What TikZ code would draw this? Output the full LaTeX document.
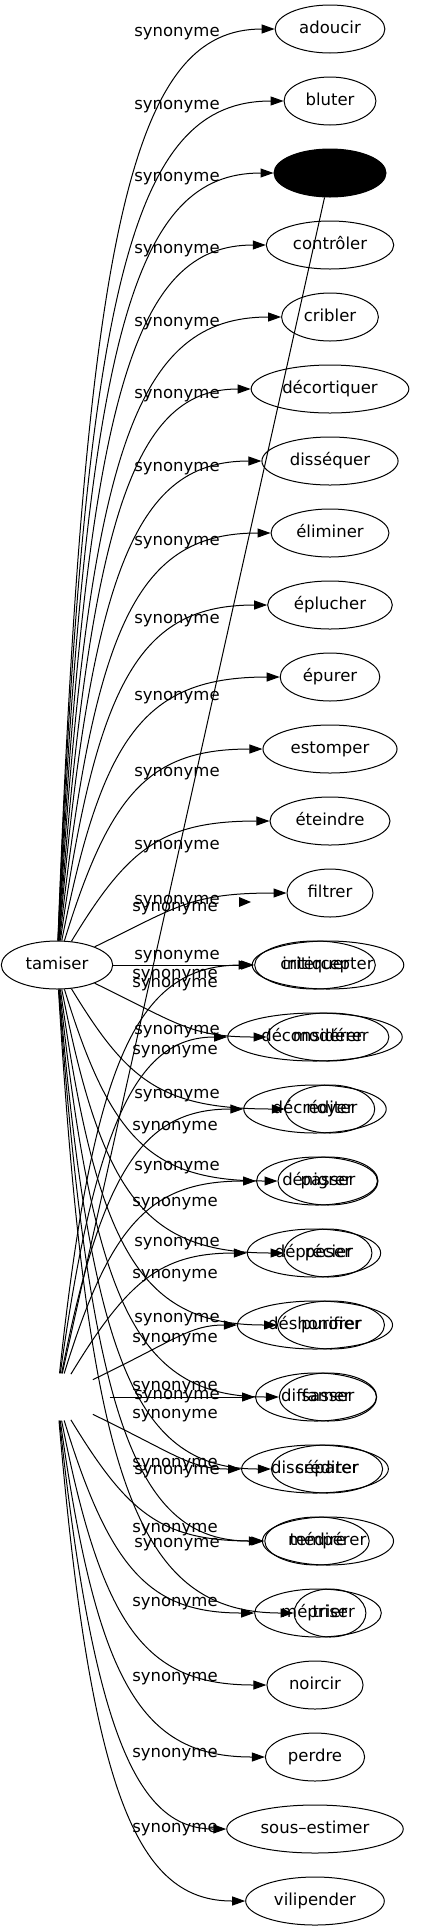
\documentclass[tikz,border=0pt]{standalone}
\usepackage{fontspec}
\setmainfont{DejaVu Sans}
\usepackage{tikz}
\usetikzlibrary{shapes.geometric, arrows.meta}

\begin{document}
\begin{tikzpicture}[x=1pt, y=-1pt,
        syn/.style={draw, ellipse, line width=1pt, inner xsep=8pt, inner ysep=0pt,
            text height=12pt, text depth=4pt,
            minimum height=48pt, font=\fontsize{16.5}{19}\selectfont},
        lbl/.style={inner sep=0pt, text height=12pt, text depth=4pt,
            font=\fontsize{16.5}{19}\selectfont},
        link/.style={line width=1pt, -{Triangle[length=13pt, width=9pt]}}]
        \useasboundingbox (0, 0) rectangle (430, 1931);

        % sources
        \node[syn] (tamiser) at (57, 965) {tamiser};
        \node[ellipse, minimum width=105pt, minimum height=47pt] (fantome) at (57, 1397) {};

        % first column
        \node[syn] (adoucir) at (330, 29) {adoucir};
        \node[syn] (bluter) at (330, 101) {bluter};
        \node[syn, fill=black, minimum width=112pt] (ombre) at (330, 173) {};
        \node[syn] (controler) at (330, 245) {contrôler};
        \node[syn] (cribler) at (330, 317) {cribler};
        \node[syn] (decortiquer) at (330, 389) {décortiquer};
        \node[syn] (dissequer) at (330, 461) {disséquer};
        \node[syn] (eliminer) at (330, 533) {éliminer};
        \node[syn] (eplucher) at (330, 605) {éplucher};
        \node[syn] (epurer) at (330, 677) {épurer};
        \node[syn] (estomper) at (330, 749) {estomper};
        \node[syn] (eteindre) at (330, 821) {éteindre};
        \node[syn] (filtrer) at (330, 893) {filtrer};
        \node[syn] (intercepter) at (328, 965) {intercepter};
        \node[syn] (moderer) at (328, 1037) {modérer};
        \node[syn] (noyer) at (330, 1109) {noyer};
        \node[syn] (passer) at (328, 1181) {passer};
        \node[syn] (peser) at (328, 1253) {peser};
        \node[syn] (purifier) at (331, 1325) {purifier};
        \node[syn] (sasser) at (328, 1397) {sasser};
        \node[syn] (separer) at (327, 1469) {séparer};
        \node[syn] (temperer) at (328, 1541) {tempérer};
        \node[syn] (trier) at (330, 1613) {trier};

        % second column, on top of the first
        \node[syn] (critiquer) at (315, 965) {critiquer};
        \node[syn] (deconsiderer) at (315, 1037) {déconsidérer};
        \node[syn] (decrediter) at (315, 1109) {décréditer};
        \node[syn] (denigrer) at (317, 1181) {dénigrer};
        \node[syn] (deprecier) at (314, 1253) {déprécier};
        \node[syn] (deshonorer) at (315, 1325) {déshonorer};
        \node[syn] (diffamer) at (316, 1397) {diffamer};
        \node[syn] (discrediter) at (315, 1469) {discréditer};
        \node[syn] (medire) at (317, 1541) {médire};
        \node[syn] (mepriser) at (318, 1613) {mépriser};
        \node[syn] (noircir) at (315, 1685) {noircir};
        \node[syn] (perdre) at (315, 1757) {perdre};
        \node[syn] (sousestimer) at (315, 1829) {sous–estimer};
        \node[syn] (vilipender) at (315, 1901) {vilipender};

        % labels
        \foreach \y in {32, 105, 177, 249, 322, 394, 467, 541, 619, 696, 772, 845,
                900, 955, 1030, 1094, 1166, 1242, 1318, 1395, 1470, 1543}
            \node[lbl] (m\y) at (177, \y) {synonyme};
        \foreach \y in {907, 974, 983, 1050, 1126, 1202, 1274, 1338, 1386, 1414,
                1463, 1528, 1602, 1677, 1753, 1828}
            \node[lbl] (d\y) at (175, \y) {synonyme};

        % tamiser
        \draw[link] (tamiser) .. controls (85, 216) and (135, 29) .. (adoucir);
        \draw[link] (tamiser) .. controls (85, 274) and (135, 101) .. (bluter);
        \draw[link] (tamiser) .. controls (86, 331) and (135, 173) .. (ombre);
        \draw[link] (tamiser) .. controls (87, 389) and (136, 245) .. (controler);
        \draw[link] (tamiser) .. controls (88, 447) and (137, 317) .. (cribler);
        \draw[link] (tamiser) .. controls (90, 504) and (138, 389) .. (decortiquer);
        \draw[link] (tamiser) .. controls (91, 562) and (139, 461) .. (dissequer);
        \draw[link] (tamiser) .. controls (94, 619) and (140, 533) .. (eliminer);
        \draw[link] (tamiser) .. controls (97, 677) and (142, 605) .. (eplucher);
        \draw[link] (tamiser) .. controls (102, 735) and (145, 677) .. (epurer);
        \draw[link] (tamiser) .. controls (110, 792) and (150, 749) .. (estomper);
        \draw[link] (tamiser) .. controls (127, 850) and (160, 821) .. (eteindre);
        \draw[link] (tamiser) .. controls (177, 907) and (190, 893) .. (filtrer);
        \draw[link] (tamiser) -- (intercepter);
        \draw[link] (tamiser) .. controls (177, 1023) and (190, 1037) .. (moderer);
        \draw[link] (tamiser) .. controls (127, 1080) and (160, 1109) .. (noyer);
        \draw[link] (tamiser) .. controls (110, 1138) and (150, 1181) .. (passer);
        \draw[link] (tamiser) .. controls (102, 1195) and (145, 1253) .. (peser);
        \draw[link] (tamiser) .. controls (97, 1253) and (142, 1325) .. (purifier);
        \draw[link] (tamiser) .. controls (94, 1311) and (140, 1397) .. (sasser);
        \draw[link] (tamiser) .. controls (91, 1368) and (139, 1469) .. (separer);
        \draw[link] (tamiser) .. controls (90, 1426) and (138, 1541) .. (temperer);
        \draw[link] (tamiser) .. controls (88, 1484) and (137, 1613) .. (trier);

        % hidden source
        \draw[line width=1pt] (fantome) -- (ombre);
        \fill (239, 897) -- (251, 902) -- (239, 907) -- cycle;
        \draw[link] (fantome) .. controls (94, 1051) and (140, 965) .. (critiquer);
        \draw[link] (fantome) .. controls (97, 1109) and (142, 1037) .. (deconsiderer);
        \draw[link] (fantome) .. controls (102, 1167) and (145, 1109) .. (decrediter);
        \draw[link] (fantome) .. controls (110, 1224) and (150, 1181) .. (denigrer);
        \draw[link] (fantome) .. controls (127, 1282) and (160, 1253) .. (deprecier);
        \draw[link] (fantome) .. controls (177, 1339) and (190, 1325) .. (deshonorer);
        \draw[link] (fantome) -- (diffamer);
        \draw[link] (fantome) .. controls (177, 1455) and (190, 1469) .. (discrediter);
        \draw[link] (fantome) .. controls (127, 1512) and (160, 1541) .. (medire);
        \draw[link] (fantome) .. controls (110, 1570) and (150, 1613) .. (mepriser);
        \draw[link] (fantome) .. controls (102, 1627) and (145, 1685) .. (noircir);
        \draw[link] (fantome) .. controls (97, 1685) and (142, 1757) .. (perdre);
        \draw[link] (fantome) .. controls (94, 1742) and (140, 1829) .. (sousestimer);
        \draw[link] (fantome) .. controls (91, 1800) and (139, 1901) .. (vilipender);
    \end{tikzpicture}
\end{document}
